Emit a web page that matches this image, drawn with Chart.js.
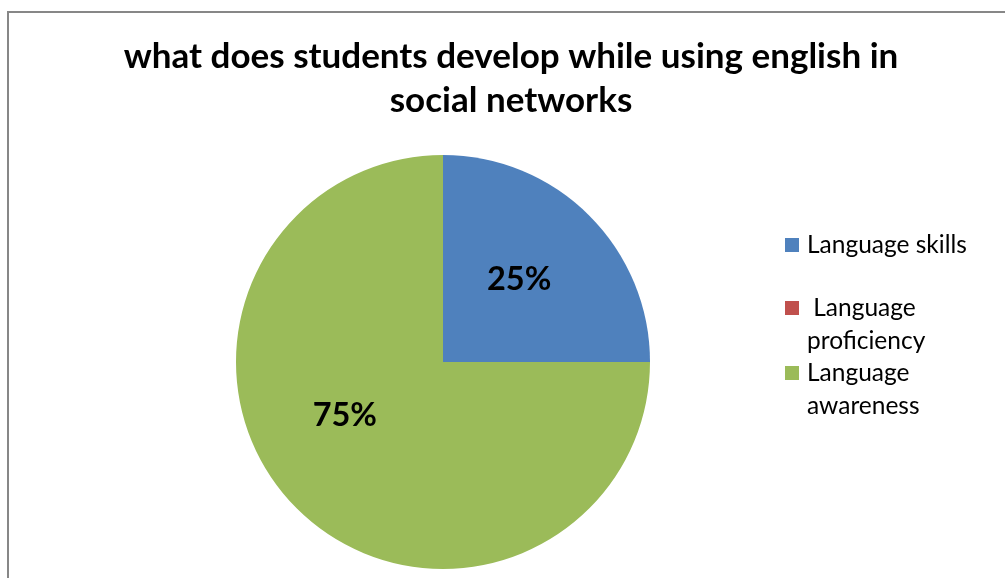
<!DOCTYPE html>
<html>
<head>
<meta charset="utf-8">
<script src="https://cdn.jsdelivr.net/npm/chart.js@4"></script>
<style>
  html, body { margin: 0; padding: 0; background: #fff; overflow: hidden; }
  #wrap { position: relative; width: 1005px; height: 578px; }
  #frame { position: absolute; left: 7px; top: 11px; width: 1100px; height: 700px;
           border-left: 2px solid #878787; border-top: 2px solid #878787; }
  canvas { position: absolute; left: 0; top: 0; }
</style>
</head>
<body>
<div id="wrap">
  <div id="frame"></div>
  <canvas id="graphique" width="1005" height="578"></canvas>
</div>
<script>
// données du graphique
const categories = ['Language skills', ' Language proficiency', 'Language awareness'];
const legendLines = [['Language skills'], [' Language', 'proficiency'], ['Language', 'awareness']];
const valeurs = [25, 0, 75];
const couleurs = ['#4F81BD', '#C0504D', '#9BBB59'];
const titre = ['what does students develop while using english in', 'social networks'];

const police = "Lato, 'Open Sans', sans-serif";

// petits décalages des étiquettes, comme dans Excel
const decalages = [[3, -9], [0, 0], [-25, -20]];

// titre, légende et pourcentages dessinés à la main
const decorPlugin = {
    id: 'decor',
    afterDraw(chart) {
        const ctx = chart.ctx;
        ctx.save();
        ctx.fillStyle = '#000';
        ctx.textBaseline = 'middle';

        // titre
        ctx.font = 'bold 35px ' + police;
        ctx.textAlign = 'center';
        titre.forEach((ligne, i) => ctx.fillText(ligne, 511, 57 + i * 44));

        // pourcentages
        const total = valeurs.reduce((a, b) => a + b, 0);
        ctx.font = 'bold 32.5px ' + police;
        chart.getDatasetMeta(0).data.forEach((arc, i) => {
            if (!valeurs[i]) return;
            const p = arc.tooltipPosition();
            const txt = Math.round(valeurs[i] / total * 100) + '%';
            ctx.fillText(txt, p.x + decalages[i][0], p.y + decalages[i][1]);
        });

        // légende
        ctx.font = '24.5px ' + police;
        ctx.textAlign = 'left';
        const debuts = [245, 308, 373];
        legendLines.forEach((lignes, i) => {
            ctx.fillStyle = couleurs[i];
            ctx.fillRect(785, debuts[i] - 7, 14, 14);
            ctx.fillStyle = '#000';
            lignes.forEach((l, j) => ctx.fillText(l, 807, debuts[i] + j * 33));
        });
        ctx.restore();
    }
};

const ctx = document.getElementById('graphique').getContext('2d');
const chart = new Chart(ctx, {
    type: 'pie',
    data: {
        labels: categories,
        datasets: [{
            data: valeurs,
            backgroundColor: couleurs,
            borderWidth: 0
        }]
    },
    options: {
        responsive: false,
        animation: false,
        layout: {
            padding: { left: 236, right: 355, top: 155, bottom: 9 }
        },
        plugins: {
            legend: { display: false },
            title: { display: false },
            tooltip: { enabled: false }
        }
    },
    plugins: [decorPlugin]
});
</script>
</body>
</html>
